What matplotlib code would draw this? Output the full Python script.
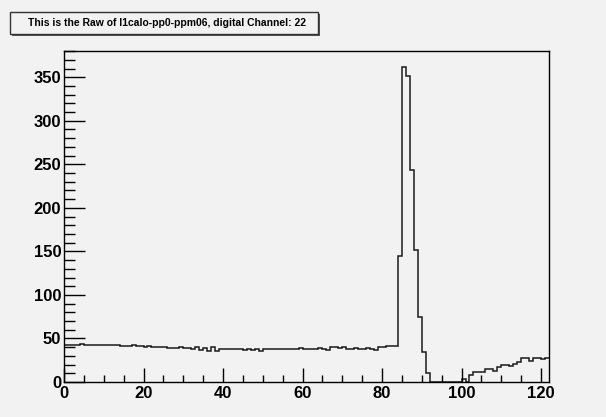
import matplotlib
matplotlib.use('Agg')
import matplotlib.pyplot as plt
import numpy as np
from matplotlib.patches import Rectangle
from matplotlib.ticker import MultipleLocator

plt.rcParams['font.family'] = ['Liberation Sans', 'DejaVu Sans']

titleText = 'This is the Raw of l1calo-pp0-ppm06, digital Channel: 22'

# counts per unit-width bin, 0..121
flatPart = [42, 42, 42, 42, 44, 43, 43, 43, 43, 43,
            42, 43, 43, 43, 41, 41, 41, 42, 41, 41,
            40, 41, 40, 40, 40, 40, 39, 39, 39, 40,
            39, 39, 38, 40, 37, 39, 36, 40, 36, 38,
            38, 38, 38, 38, 38, 37, 38, 37, 38, 36,
            38, 38, 38, 38, 38, 38, 38, 38, 38, 39,
            38, 38, 38, 38, 39, 38, 37, 40, 40, 39,
            40, 38, 38, 39, 38, 38, 39, 38, 37, 40,
            40, 41, 41, 41]
peakPart = [145, 362, 351, 244, 152, 75, 34, 10]
emptyPart = [0, 0, 0, 0, 0, 0, 0, 0]
tailPart = [4, 0, 8, 12, 11, 11, 15, 15, 13, 17,
            19, 19, 18, 21, 23, 28, 28, 24, 28, 28,
            26, 28]
counts = flatPart + peakPart + emptyPart + tailPart
xMin, xMax = 0, len(counts)

bg = '#f2f2f2'
fig = plt.figure(figsize=(6.06, 4.17), dpi=100, facecolor=bg)
ax = fig.add_axes([64 / 606, 35 / 417, 485 / 606, 331 / 417], facecolor=bg)

edges = np.arange(xMin, xMax + 1)
ax.stairs(counts, edges, color='#1a1a1a', linewidth=1.1, baseline=None)

ax.set_xlim(xMin, xMax)
ax.set_ylim(0, max(counts) * 1.05)

ax.xaxis.set_major_locator(MultipleLocator(20))
ax.xaxis.set_minor_locator(MultipleLocator(5))
ax.yaxis.set_major_locator(MultipleLocator(50))
ax.yaxis.set_minor_locator(MultipleLocator(10))

ax.tick_params(axis='both', which='both', direction='in', color='black', width=1)
ax.tick_params(axis='x', which='major', length=10, pad=3)
ax.tick_params(axis='x', which='minor', length=5)
ax.tick_params(axis='y', which='major', length=15, pad=2)
ax.tick_params(axis='y', which='minor', length=8)
for lab in ax.get_xticklabels() + ax.get_yticklabels():
    lab.set_fontweight('bold')
    lab.set_fontsize(12)

for spine in ax.spines.values():
    spine.set_color('black')
    spine.set_linewidth(1.0)

# title box with ROOT-style shadow
W, H = 606, 417
fig.patches.append(Rectangle((11.5 / W, (H - 36) / H), 308.5 / W, 22.5 / H,
                             transform=fig.transFigure, facecolor='#555555',
                             edgecolor='none', zorder=1))
fig.patches.append(Rectangle((9.5 / W, (H - 34.3) / H), 308.5 / W, 22.5 / H,
                             transform=fig.transFigure, facecolor=bg,
                             edgecolor='#333333', linewidth=1, zorder=2))
fig.text(167 / W, (H - 23) / H, titleText, ha='center', va='center',
         fontsize=7.5, fontweight='bold', zorder=3)

fig.savefig('out.png', dpi=100, facecolor=bg)
